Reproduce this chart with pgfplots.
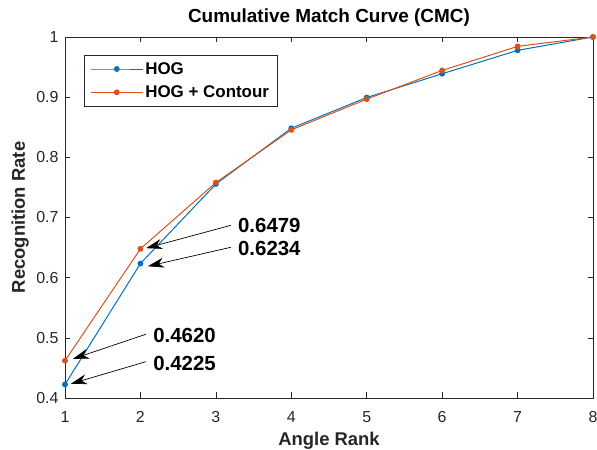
\documentclass[border=0pt]{standalone}
\usepackage{pgfplots}
\pgfplotsset{compat=1.18}
\usepackage{fontspec}
\setmainfont{Liberation Sans}
\usetikzlibrary{arrows.meta}

\definecolor{mblue}{rgb}{0,0.447,0.741}
\definecolor{morange}{rgb}{0.85,0.325,0.098}
\definecolor{axgray}{rgb}{0.15,0.15,0.15}

% CMC values, rank 1..8
\pgfplotstableread{
rank hog hogc
1 0.4225 0.4620
2 0.6234 0.6479
3 0.7556 0.7580
4 0.8483 0.8456
5 0.8994 0.8967
6 0.9389 0.9444
7 0.9778 0.9844
8 1.0000 1.0000
}\cmc

\begin{document}
\begin{tikzpicture}
\begin{axis}[
    scale only axis, width=528bp, height=361bp,
    xmin=1, xmax=8, ymin=0.4, ymax=1,
    xtick={1,2,3,4,5,6,7,8},
    ytick={0.4,0.5,0.6,0.7,0.8,0.9,1},
    tick align=inside, major tick length=5.5bp,
    axis line style={axgray, line width=0.6bp},
    every tick/.style={axgray, line width=0.6bp},
    /pgf/number format/assume math mode=true,
    ticklabel style={font=\fontsize{16}{18}\selectfont, text=axgray},
    xticklabel style={anchor=base, yshift=-25bp},
    yticklabel style={anchor=east, xshift=-3bp},
    title={Cumulative Match Curve (CMC)},
    title style={at={(axis description cs:0.5,1.0222)}, anchor=base,
        font=\bfseries\fontsize{19}{21}\selectfont, inner sep=0pt},
    xlabel={Angle Rank},
    xlabel style={at={(axis description cs:0.5,-0.131)}, anchor=base,
        font=\bfseries\fontsize{18.5}{20}\selectfont, text=axgray, inner sep=0pt},
    ylabel={Recognition Rate},
    ylabel style={at={(axis description cs:-0.0758,0.5)}, anchor=base,
        font=\bfseries\fontsize{18.5}{20}\selectfont, text=axgray, inner sep=0pt},
    legend cell align=left,
    legend image code/.code={
        \draw[mark repeat=2, mark phase=2] plot coordinates {(0bp,0bp) (26bp,0bp) (52bp,0bp)};
    },
    legend style={at={(axis description cs:0.036,0.950)}, anchor=north west,
        draw=axgray, line width=0.6bp,
        font=\bfseries\fontsize{17}{19}\selectfont,
        inner xsep=6bp, inner ysep=5bp, row sep=6bp,
        nodes={inner sep=2bp}},
    every axis plot/.append style={line width=1bp, mark=*, mark size=2.4bp},
]
\addplot[mblue, mark options={fill=mblue}] table[x=rank, y=hog] {\cmc};
\addlegendentry{HOG}
\addplot[morange, mark options={fill=morange}] table[x=rank, y=hogc] {\cmc};
\addlegendentry{HOG + Contour}

% text arrows
\begin{scope}[line width=0.7bp, -{Stealth[length=16bp, width=10bp, inset=5bp]}]
\draw (axis cs:3.20,0.687) -- (axis cs:2.075,0.649);
\draw (axis cs:3.20,0.6505) -- (axis cs:2.10,0.619);
\draw (axis cs:2.075,0.506) -- (axis cs:1.105,0.465);
\draw (axis cs:2.075,0.4604) -- (axis cs:1.078,0.4236);
\end{scope}
\begin{scope}[every node/.style={anchor=west, inner sep=0pt, xshift=7bp,
        font=\bfseries\fontsize{20.5}{22}\selectfont}]
\node at (axis cs:3.20,0.686) {0.6479};
\node at (axis cs:3.20,0.648) {0.6234};
\node at (axis cs:2.075,0.504) {0.4620};
\node at (axis cs:2.075,0.458) {0.4225};
\end{scope}
\end{axis}
\pgfresetboundingbox
\path[use as bounding box] ([xshift=-65bp,yshift=-52bp]current axis.south west)
    rectangle ([xshift=4bp,yshift=37bp]current axis.north east);
\end{tikzpicture}
\end{document}
